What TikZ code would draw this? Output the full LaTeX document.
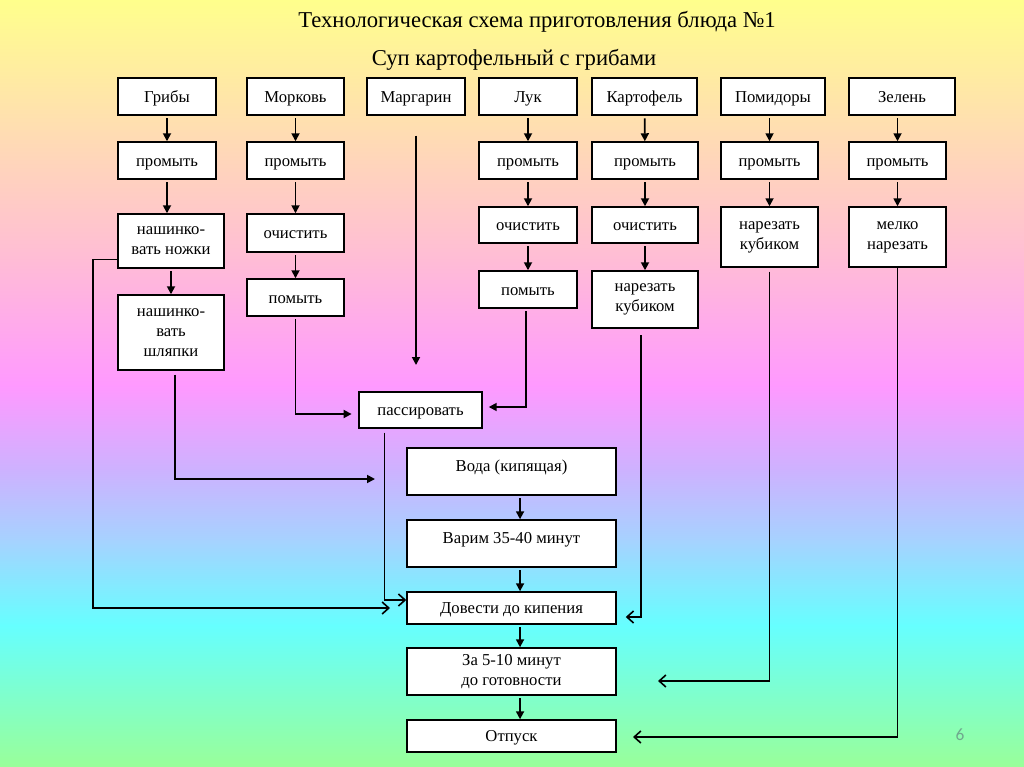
\documentclass[tikz,border=0pt]{standalone}
\usepackage{fontspec}
\setmainfont{Liberation Serif}
\newfontfamily\numfont{Carlito}
\usetikzlibrary{arrows.meta,calc}
\definecolor{bgA}{HTML}{FFFF8C}
\definecolor{bgB}{HTML}{FFDDB2}
\definecolor{bgC}{HTML}{FFBCD6}
\definecolor{bgD}{HTML}{FF99FF}
\definecolor{bgE}{HTML}{CDB2FF}
\definecolor{bgF}{HTML}{A6D2FF}
\definecolor{bgG}{HTML}{66FFFF}
\definecolor{bgH}{HTML}{99FF99}
\definecolor{numGrey}{HTML}{6FA88E}
\tikzset{
  box/.style={draw=black, fill=white, line width=1.1pt, inner sep=2pt, align=center, text height=10pt, text depth=1.4pt, font=\fontsize{12.5}{15}\selectfont},
  bx/.style 2 args={box, minimum width=#1*0.75pt, minimum height=#2*0.75pt},
  ml/.style={text height={}, text depth={}},
  raised/.style={text depth=10.4pt},
  arr/.style={-{Triangle[length=6pt,width=6pt]}, line width=1.3pt, shorten <=2pt},
  oarr/.style={-{Straight Barb[length=5pt,width=9pt]}, line width=1.2pt},
  ttl/.style={font=\fontsize{17}{20}\selectfont},
}

\begin{document}
\begin{tikzpicture}[x=0.75pt, y=-0.75pt]
  \useasboundingbox (0,0) rectangle (1024,767);
  % background
  \foreach \ya/\yb/\ca/\cb in {0/131/bgA/bgB, 130/261/bgB/bgC, 260/386/bgC/bgD, 385/471/bgD/bgE, 470/541/bgE/bgF, 540/626/bgF/bgG, 625/767/bgG/bgH}
    \shade[top color=\ca, bottom color=\cb] (0,\ya) rectangle (1024,\yb);

  \node[ttl] (title) at (537,21.5) {Технологическая схема приготовления блюда №1};
  \node[ttl] (subtitle) at (514,59.5) {Суп картофельный с грибами};

  % ingredients
  \node[bx={98}{37}] (grib) at (167,96.5) {Грибы};
  \node[bx={97}{37}] (mork) at (295.5,96.5) {Морковь};
  \node[bx={98}{37}] (marg) at (416,96.5) {Маргарин};
  \node[bx={98}{37}] (luk) at (528,96.5) {Лук};
  \node[bx={105}{37}] (kart) at (644.5,96.5) {Картофель};
  \node[bx={104}{37}] (pomid) at (773,96.5) {Помидоры};
  \node[bx={106}{37}] (zelen) at (902,96.5) {Зелень};

  \node[bx={98}{37}] (grib2) at (167,160.5) {промыть};
  \node[bx={97}{37}] (mork2) at (295.5,160.5) {промыть};
  \node[bx={98}{37}] (luk2) at (528,160.5) {промыть};
  \node[bx={106}{37}] (kart2) at (645,160.5) {промыть};
  \node[bx={97}{37}] (pomid2) at (769.5,160.5) {промыть};
  \node[bx={97}{37}] (zelen2) at (897.5,160.5) {промыть};

  \node[bx={106}{54}, ml] (grib3) at (171,241) {нашинко-\\вать ножки};
  \node[bx={97}{38}] (mork3) at (295.5,233) {очистить};
  \node[bx={98}{36}] (luk3) at (528,225) {очистить};
  \node[bx={106}{36}] (kart3) at (645,225) {очистить};
  \node[bx={97}{60}, ml] (pomid3) at (769.5,237) {нарезать\\кубиком};
  \node[bx={97}{60}, ml] (zelen3) at (897.5,237) {мелко\\нарезать};

  \node[bx={106}{75}, ml] (grib4) at (171,332.5) {нашинко-\\вать\\шляпки};
  \node[bx={97}{37}] (mork4) at (295.5,297.5) {помыть};
  \node[bx={98}{37}] (luk4) at (528,289.5) {помыть};
  \node[bx={106}{57}, ml] (kart4) at (645,299.5) {нарезать\\кубиком};

  % cooking
  \node[bx={123}{36}] (pass) at (420.5,410) {пассировать};
  \node[bx={209}{47}, raised] (voda) at (511.5,471.5) {Вода (кипящая)};
  \node[bx={209}{47}, raised] (varim) at (511.5,543.5) {Варим 35-40 минут};
  \node[bx={209}{32}] (dov) at (511.5,608) {Довести до кипения};
  \node[bx={209}{47}, ml] (za) at (511.5,671.5) {За 5-10 минут\\до готовности};
  \node[bx={209}{32}] (otp) at (511.5,736) {Отпуск};

  \node[font=\numfont\fontsize{13}{15}\selectfont, text=numGrey] (pgnum) at (960,735) {6};

  \coordinate (margEnd) at (416,365);
  \coordinate (vodaIn) at (375,479);
  \coordinate (dovIn) at (390,608);
  \coordinate (zaIn) at (658,681);
  \coordinate (otpIn) at (633,737);

  \foreach \u/\v in {grib/grib2, grib3/grib4, mork/mork2, mork2/mork3, mork3/mork4, luk/luk2, luk2/luk3, luk3/luk4, kart/kart2, kart2/kart3, kart3/kart4, pomid2/pomid3, zelen2/zelen3} \draw[arr] (\u) -- (\v);
  \draw[arr] (grib2) -- (grib2 |- grib3.north);
  \draw[arr] (pomid2 |- pomid.south) -- (pomid2);
  \draw[arr] (zelen2 |- zelen.south) -- (zelen2);
  \draw[arr, shorten <=15pt] (marg) -- (margEnd);
  \draw[arr, shorten >=5pt] (mork4) |- ([yshift=-3pt]pass.west);
  \draw[arr, shorten >=4.5pt] ([xshift=-1.5pt]luk4.south) |- ([yshift=2.25pt]pass.east);
  \draw[arr, shorten <=3pt] ([xshift=3pt]grib4.south) |- (vodaIn);
  \foreach \u/\v in {voda/varim, varim/dov, dov/za, za/otp} \draw[arr] ([xshift=6.4pt]\u.south) -- ([xshift=6.4pt]\v.north);

  \draw[oarr, shorten <=3pt] ([xshift=-27pt]pass.south) |- ([yshift=6pt]dov.west);
  \draw[oarr] ([yshift=-14pt]grib3.west) -- ++(-24,0) |- (dovIn);
  \draw[oarr, shorten <=5pt, shorten >=6.75pt] ([xshift=-3pt]kart4.south) |- ([yshift=-6.75pt]dov.east);
  \draw[oarr, shorten <=3pt] (pomid3.south) |- (zaIn);
  \draw[oarr] (zelen3.south) |- (otpIn);
\end{tikzpicture}
\end{document}
